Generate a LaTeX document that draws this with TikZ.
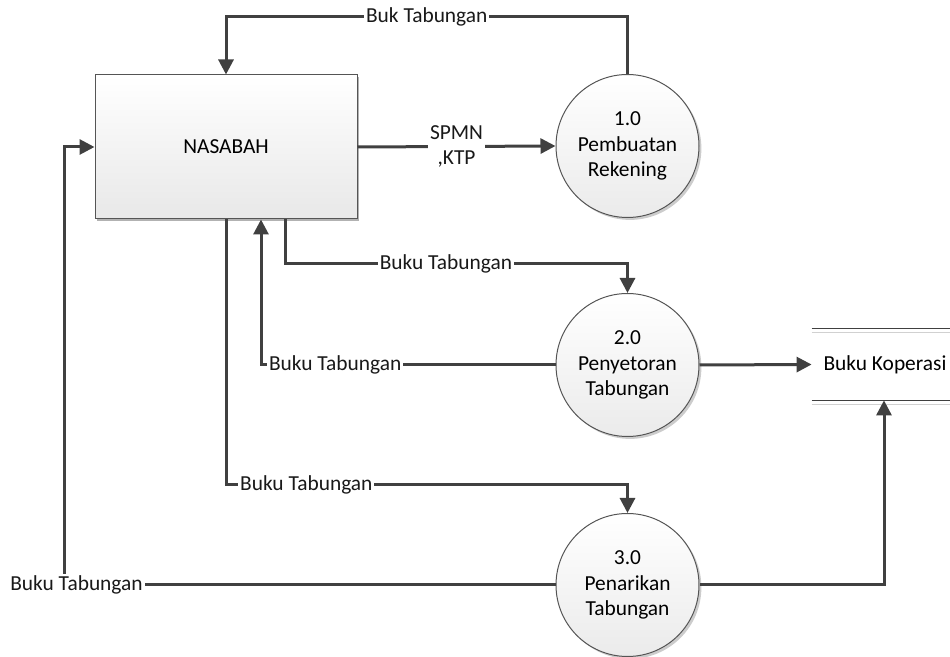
\documentclass[tikz,border=0pt]{standalone}
\usepackage{fontspec}
\setmainfont{Carlito}
\usepackage{tikz}
\usetikzlibrary{arrows.meta,positioning,shadows}
\definecolor{flowgray}{RGB}{64,64,64}
\definecolor{edgegray}{RGB}{85,85,85}

\begin{document}
\begin{tikzpicture}[x=0.5pt, y=-0.5pt, font=\fontsize{10.7}{12.6}\selectfont,
  flow/.style={draw=flowgray, line width=1.5pt, -{Triangle[length=7.5pt,width=7.5pt]}},
  lbl/.style={fill=white, inner sep=1pt, text=black!90},
  proses/.style={draw=edgegray, circle, line width=0.5pt, minimum size=71.5pt, inner sep=0pt,
    align=center, top color=white, bottom color=black!8,
    drop shadow={shadow xshift=1.2pt, shadow yshift=-1.2pt, opacity=0.2, fill=black}},
  entitas/.style={draw=edgegray, rectangle, line width=0.5pt, minimum width=131pt, minimum height=72pt,
    top color=white, bottom color=black!9,
    drop shadow={shadow xshift=1.2pt, shadow yshift=-1.2pt, opacity=0.3, fill=black}},
  store/.style={rectangle, minimum width=69pt, minimum height=35.5pt, inner sep=0pt}]

\useasboundingbox (0,0) rectangle (950,657);

% entitas dan proses
\node[entitas] (nasabah) at (226,147) {NASABAH};
\node[proses] (p1) at (627.5,146) {1.0\\Pembuatan\\Rekening};
\node[proses] (p2) at (627.5,365) {2.0\\Penyetoran\\Tabungan};
\node[proses] (p3) at (627.5,585) {3.0\\Penarikan\\Tabungan};

% data store
\node[store] (kop) at (881,364.5) {\hspace{4pt}Buku Koperasi};
\draw[flowgray, line width=0.6pt] (kop.north west) -- (kop.north east);
\draw[black!18, line width=0.6pt] ([yshift=-2pt]kop.north west) -- ([yshift=-2pt]kop.north east);
\draw[flowgray, line width=0.6pt] (kop.south west) -- (kop.south east);
\draw[black!18, line width=0.6pt] ([yshift=-2pt]kop.south west) -- ([yshift=-2pt]kop.south east);

% aliran data
\draw[flow] (p1.north) |- node[lbl, pos=0.75]{Buk Tabungan} ([yshift=29pt]nasabah.north) -- (nasabah.north);
\draw[flow] (nasabah.east) -- node[lbl, align=center]{SPMN\\,KTP} (p1.west);

\draw[flow] ([xshift=29.5pt]nasabah.south) |- node[lbl, pos=0.735]{Buku Tabungan} ([yshift=14.5pt]p2.north) -- (p2.north);
\draw[flow] (p2.west) -| node[lbl, pos=0.374]{Buku Tabungan} ([xshift=17.5pt]nasabah.south);
\draw[flow] (p2.east) -- (kop.west);

\draw[flow] (nasabah.south) |- node[lbl, pos=0.6]{Buku Tabungan} ([yshift=14pt]p3.north) -- (p3.north);
\draw[flow] (p3.east) -| ([xshift=1.5pt]kop.south);
\draw[flow] (p3.west) -| node[lbl, pos=0.5, xshift=6pt]{Buku Tabungan} ([xshift=-15pt]nasabah.west) -- (nasabah.west);

\end{tikzpicture}
\end{document}
